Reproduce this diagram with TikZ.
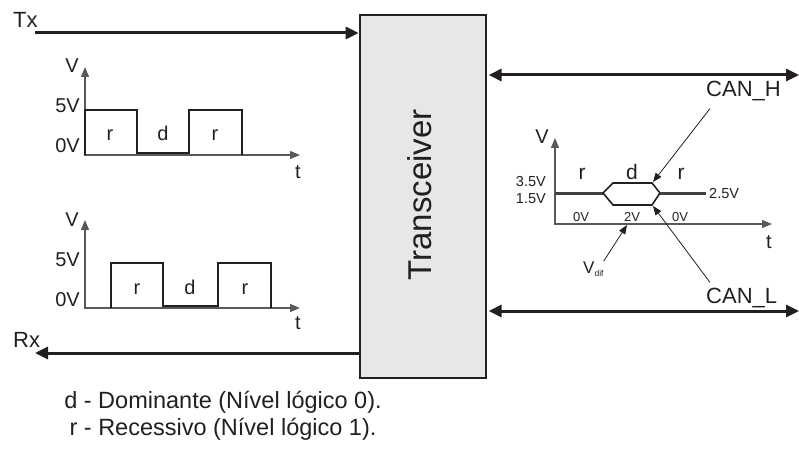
\documentclass[tikz,border=0pt]{standalone}
\usepackage{fontspec}
\setmainfont{Liberation Sans}
\usepackage{xcolor}
\usepackage{tikz}
\usetikzlibrary{arrows.meta, positioning}

\definecolor{linec}{HTML}{231F20}
\definecolor{axisc}{HTML}{58595B}
\definecolor{boxfill}{HTML}{E6E7E8}

\begin{document}
\begin{tikzpicture}[x=1pt, y=-1pt,
  trxbox/.style={rectangle, draw=linec, line width=2.6pt, fill=boxfill, minimum width=126pt, minimum height=363pt, inner sep=0pt},
  lbl/.style={inner sep=0pt, text=linec, font=\fontsize{22}{24}\selectfont},
  val/.style={inner sep=0pt, text=linec, font=\fontsize{20}{22}\selectfont},
  small/.style={inner sep=0pt, text=linec, font=\fontsize{14.5}{16}\selectfont},
  tiny/.style={inner sep=0pt, text=linec, font=\fontsize{13}{14}\selectfont},
  bus/.style={line width=3pt, draw=linec, -{Triangle[length=13pt, width=12pt]}},
  dbus/.style={line width=3pt, draw=linec, {Triangle[length=13pt, width=12pt]}-{Triangle[length=13pt, width=12pt]}},
  axis/.style={line width=1.3pt, draw=axisc, {Triangle[length=10pt, width=8pt]}-{Triangle[length=10pt, width=8pt]}},
  wave/.style={line width=1.5pt, draw=linec},
  canline/.style={line width=3pt, draw=linec!85},
  hexline/.style={line width=1.6pt, draw=linec},
  ptr/.style={line width=0.8pt, draw=linec, -{Triangle[length=9pt, width=7pt]}}
]
  \useasboundingbox (0,0) rectangle (799,465);

  \node[trxbox] (trx) at (423,196.5) {};
  \node[rotate=90, inner sep=0pt, text=linec, font=\fontsize{33}{36}\selectfont] (trxlbl) at (420,195) {Transceiver};

  \node[lbl, anchor=base west] (tx) at (13,28) {Tx};
  \node[lbl, anchor=base west] (rx) at (13,347) {Rx};
  \coordinate (txend) at (35,33);
  \coordinate (rxend) at (35,353);
  \draw[bus] (txend) -- (trx.west |- txend);
  \draw[bus] (trx.west |- rxend) -- (rxend);

  \coordinate (hend) at (799,75);
  \coordinate (lend) at (799,311);
  \draw[dbus] ([xshift=1.3pt]trx.east |- hend) -- (hend);
  \draw[dbus] ([xshift=1.3pt]trx.east |- lend) -- (lend);
  \node[lbl, anchor=base west] (canh) at (706,97) {CAN\_H};
  \node[lbl, anchor=base west] (canl) at (706,303) {CAN\_L};

  \draw[axis] (85,67) |- (300,155);
  \draw[wave] (85,155) -- (85,110) -- (137,110) -- (137,153) -- (189,153) -- (189,110) -- (242,110) -- (242,155);
  \node[val, anchor=base east] (txv) at (79,73) {V};
  \node[val, anchor=base east] (txhi) at (80,113) {5V};
  \node[val, anchor=base east] (txlo) at (80,153) {0V};
  \node[val, anchor=base] (txt) at (298,178) {t};
  \foreach \x/\s [count=\i] in {110/r, 163/d, 215/r}
    \node[val, anchor=base] (txbit\i) at (\x,141) {\s};

  \draw[axis] (85,220) |- (300,308);
  \draw[wave] (111,308) -- (111,263) -- (163,263) -- (163,306) -- (218,306) -- (218,263) -- (271,263) -- (271,308);
  \node[val, anchor=base east] (rxv) at (79,226) {V};
  \node[val, anchor=base east] (rxhi) at (80,266) {5V};
  \node[val, anchor=base east] (rxlo) at (80,306) {0V};
  \node[val, anchor=base] (rxt) at (298,329) {t};
  \foreach \x/\s [count=\i] in {137/r, 190/d, 245/r}
    \node[val, anchor=base] (rxbit\i) at (\x,294) {\s};

  \draw[axis] (555,138) |- (772,224);
  \draw[canline] (555,193) -- (603,193);
  \draw[hexline] (603,193) -- (613,183) -- (652,183) -- (660,193) -- (652,205) -- (613,205) -- cycle;
  \draw[canline] (660,193) -- (706,193);
  \node[val, anchor=base east] (canv) at (549,143) {V};
  \node[small, anchor=base east] (canhi) at (546,186) {3.5V};
  \node[small, anchor=base east] (canlo) at (546,203) {1.5V};
  \node[small, anchor=base west] (canrec) at (709,198) {2.5V};
  \node[val, anchor=base] (cant) at (769,248) {t};
  \foreach \x/\s [count=\i] in {582/r, 632/d, 681/r}
    \node[val, font=\fontsize{21}{22}\selectfont, anchor=base] (canbit\i) at (\x,179) {\s};
  \foreach \x/\s [count=\i] in {581/0V, 632/2V, 680/0V}
    \node[tiny, anchor=base] (candif\i) at (\x,221) {\s};
  \node[small, font=\fontsize{17}{18}\selectfont, anchor=base west] (vdif) at (583,273) {V\raisebox{-3pt}{\fontsize{8.5}{9}\selectfont dif}};

  \coordinate (hexh) at (653,182);
  \coordinate (hexl) at (653,206);
  \coordinate (difpt) at (627,225);
  \draw[ptr] ([shift={(4,7)}]canh.south west) -- (hexh);
  \draw[ptr] ([shift={(4,-5)}]canl.north west) -- (hexl);
  \draw[ptr] (vdif.north east) -- (difpt);

  \node[lbl, font=\fontsize{23.5}{25}\selectfont, anchor=base] (legd) at (223,408) {d - Dominante (Nível lógico 0).};
  \node[lbl, font=\fontsize{23.5}{25}\selectfont, anchor=base] (legr) at (223,435) {r - Recessivo (Nível lógico 1).};
\end{tikzpicture}
\end{document}
